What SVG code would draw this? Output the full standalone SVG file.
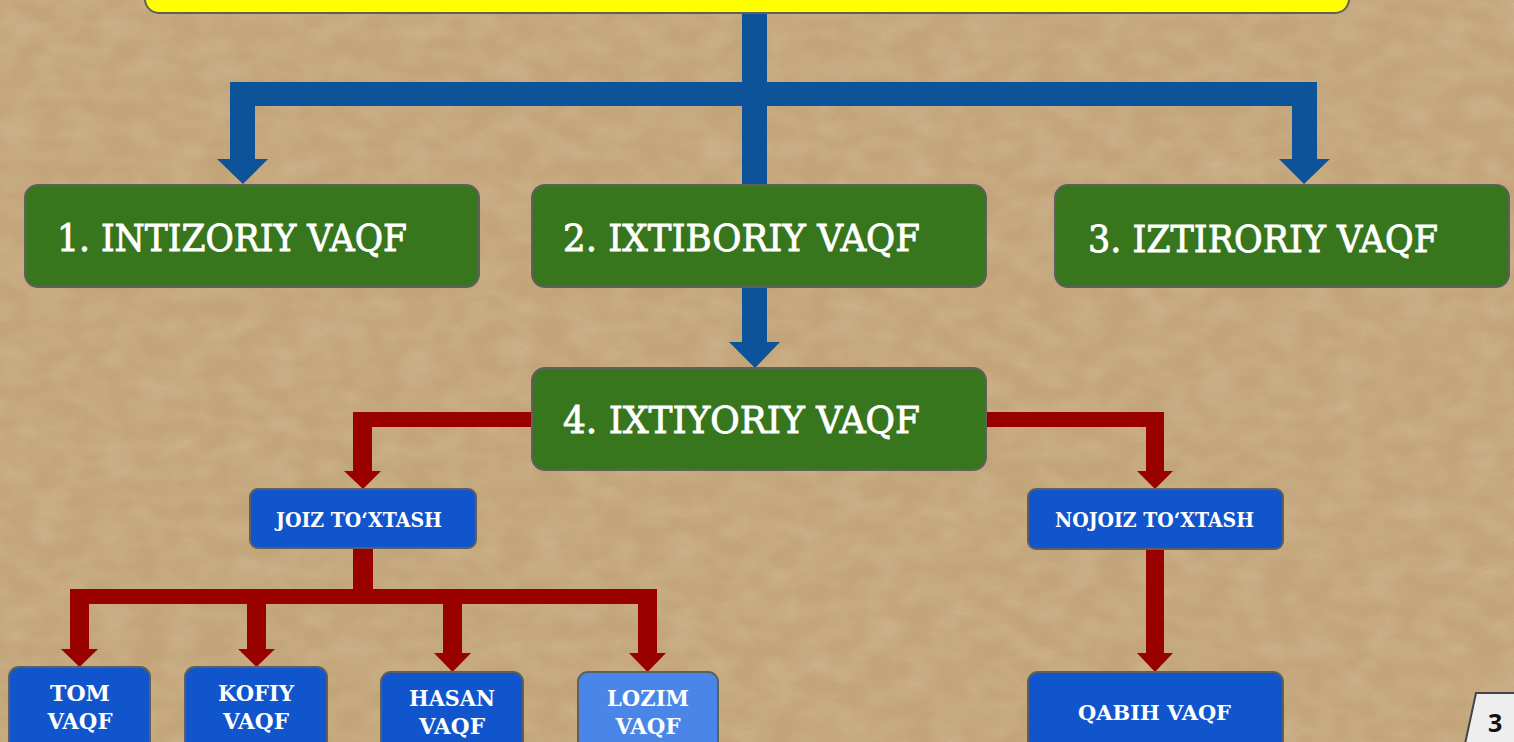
<svg xmlns="http://www.w3.org/2000/svg" width="1514" height="742" viewBox="0 0 1514 742">
  <defs>
    <filter id="paper" x="0" y="0" width="1514" height="742" filterUnits="userSpaceOnUse">
      <feTurbulence type="fractalNoise" baseFrequency="0.7" numOctaves="3" seed="7" result="n"/>
      <feColorMatrix in="n" type="matrix" values="0 0 0 0 0.45  0 0 0 0 0.33  0 0 0 0 0.18  0.8 0 0 0 -0.3"/>
    </filter>
    <filter id="paper2" x="0" y="0" width="1514" height="742" filterUnits="userSpaceOnUse">
      <feTurbulence type="fractalNoise" baseFrequency="0.03 0.05" numOctaves="2" seed="3" result="n"/>
      <feColorMatrix in="n" type="matrix" values="0 0 0 0 0.92  0 0 0 0 0.82  0 0 0 0 0.66  0.35 0 0 0 -0.12"/>
    </filter>
    <style>
      .blue { fill: #0d5399; }
      .red { fill: #990000; }
      .green { fill: #38761d; stroke: #5f5f5f; stroke-width: 2; }
      .bbox { fill: #1155cc; stroke: #5f5f5f; stroke-width: 2; }
      .lbox { fill: #4a86e8; stroke: #5f5f5f; stroke-width: 2; }
      .big { font-family: "DejaVu Serif", "Liberation Serif", serif; font-size: 38px; fill: #ffffff; stroke: #ffffff; stroke-width: 0.9px; }
      .small { font-family: "DejaVu Serif", "Liberation Serif", serif; font-weight: bold; font-size: 21px; fill: #ffffff; }
      .sm2 { font-family: "DejaVu Serif", "Liberation Serif", serif; font-weight: bold; font-size: 23px; fill: #ffffff; }
    </style>
  </defs>

  <!-- background -->
  <rect x="0" y="0" width="1514" height="742" fill="#c5a67a"/>
  <rect x="0" y="0" width="1514" height="742" filter="url(#paper2)"/>
  <rect x="0" y="0" width="1514" height="742" filter="url(#paper)"/>

  <!-- connectors -->
  <g id="connectors">
    <rect class="blue" x="742" y="12" width="25" height="174"/>
    <rect class="blue" x="230" y="82" width="1087" height="24"/>
    <rect class="blue" x="230" y="82" width="25" height="78"/>
    <polygon class="blue" points="217,159 268,159 243,184"/>
    <rect class="blue" x="1292" y="82" width="25" height="78"/>
    <polygon class="blue" points="1279,159 1330,159 1304,184"/>
    <rect class="blue" x="742" y="286" width="25" height="57"/>
    <polygon class="blue" points="729,342 780,342 755,368"/>

    <rect class="red" x="353" y="412" width="180" height="15"/>
    <rect class="red" x="353" y="412" width="19" height="60"/>
    <polygon class="red" points="344,471 381,471 363,489"/>
    <rect class="red" x="985" y="412" width="179" height="15"/>
    <rect class="red" x="1146" y="412" width="18" height="60"/>
    <polygon class="red" points="1137,471 1173,471 1155,489"/>

    <rect class="red" x="353" y="548" width="20" height="56"/>
    <rect class="red" x="70" y="589" width="587" height="15"/>
    <rect class="red" x="70" y="589" width="19" height="61"/>
    <polygon class="red" points="61,649 98,649 79.5,667"/>
    <rect class="red" x="247" y="589" width="19" height="61"/>
    <polygon class="red" points="238,649 275,649 256.5,667"/>
    <rect class="red" x="443" y="589" width="19" height="65"/>
    <polygon class="red" points="434,653 471,653 452.5,672"/>
    <rect class="red" x="638" y="589" width="19" height="65"/>
    <polygon class="red" points="629,653 666,653 647.5,672"/>

    <rect class="red" x="1146" y="548" width="18" height="106"/>
    <polygon class="red" points="1137,653 1173,653 1155,672"/>
  </g>

  <g id="top">
    <rect x="145" y="-40" width="1204" height="53" rx="14" fill="#ffff00" stroke="#5f5f5f" stroke-width="2"/>
  </g>

  <g id="n1">
    <rect class="green" x="25" y="185" width="454" height="102" rx="13"/>
    <text class="big" x="57" y="251" textLength="350" lengthAdjust="spacingAndGlyphs">1. INTIZORIY VAQF</text>
  </g>
  <g id="n2">
    <rect class="green" x="532" y="185" width="454" height="102" rx="13"/>
    <text class="big" x="563" y="251" textLength="357" lengthAdjust="spacingAndGlyphs">2. IXTIBORIY VAQF</text>
  </g>
  <g id="n3">
    <rect class="green" x="1055" y="185" width="454" height="102" rx="13"/>
    <text class="big" x="1088" y="252" textLength="350" lengthAdjust="spacingAndGlyphs">3. IZTIRORIY VAQF</text>
  </g>
  <g id="n4">
    <rect class="green" x="532" y="368" width="454" height="102" rx="13"/>
    <text class="big" x="563" y="433" textLength="357" lengthAdjust="spacingAndGlyphs">4. IXTIYORIY VAQF</text>
  </g>

  <g id="joiz">
    <rect class="bbox" x="250" y="489" width="226" height="59" rx="8"/>
    <text class="small" x="276" y="527" textLength="166" lengthAdjust="spacingAndGlyphs">JOIZ TO‘XTASH</text>
  </g>
  <g id="nojoiz">
    <rect class="bbox" x="1028" y="489" width="255" height="60" rx="8"/>
    <text class="small" x="1055" y="527" textLength="199" lengthAdjust="spacingAndGlyphs">NOJOIZ TO‘XTASH</text>
  </g>

  <g id="tom">
    <rect class="bbox" x="9" y="667" width="141" height="90" rx="10"/>
    <text class="sm2" x="80" y="701" text-anchor="middle" textLength="60" lengthAdjust="spacingAndGlyphs">TOM</text>
    <text class="sm2" x="80" y="729" text-anchor="middle" textLength="65" lengthAdjust="spacingAndGlyphs">VAQF</text>
  </g>
  <g id="kofiy">
    <rect class="bbox" x="185" y="667" width="142" height="90" rx="10"/>
    <text class="sm2" x="256" y="701" text-anchor="middle" textLength="76" lengthAdjust="spacingAndGlyphs">KOFIY</text>
    <text class="sm2" x="256" y="729" text-anchor="middle" textLength="66" lengthAdjust="spacingAndGlyphs">VAQF</text>
  </g>
  <g id="hasan">
    <rect class="bbox" x="381" y="672" width="142" height="90" rx="10"/>
    <text class="sm2" x="452" y="706" text-anchor="middle" textLength="86" lengthAdjust="spacingAndGlyphs">HASAN</text>
    <text class="sm2" x="452" y="734" text-anchor="middle" textLength="66" lengthAdjust="spacingAndGlyphs">VAQF</text>
  </g>
  <g id="lozim">
    <rect class="lbox" x="578" y="672" width="140" height="90" rx="10"/>
    <text class="sm2" x="648" y="706" text-anchor="middle" textLength="82" lengthAdjust="spacingAndGlyphs">LOZIM</text>
    <text class="sm2" x="648" y="734" text-anchor="middle" textLength="65" lengthAdjust="spacingAndGlyphs">VAQF</text>
  </g>
  <g id="qabih">
    <rect class="bbox" x="1028" y="672" width="255" height="90" rx="10"/>
    <text class="small" x="1078" y="720" textLength="153" lengthAdjust="spacingAndGlyphs">QABIH VAQF</text>
  </g>

  <g id="pagenum">
    <polygon points="1476,693 1516,693 1516,744 1465,744" fill="#eeeeee" stroke="#444444" stroke-width="2"/>
    <text x="1488" y="732" font-family="'Open Sans', 'Liberation Sans', sans-serif" font-weight="bold" font-size="25" fill="#111111">3</text>
  </g>
</svg>
